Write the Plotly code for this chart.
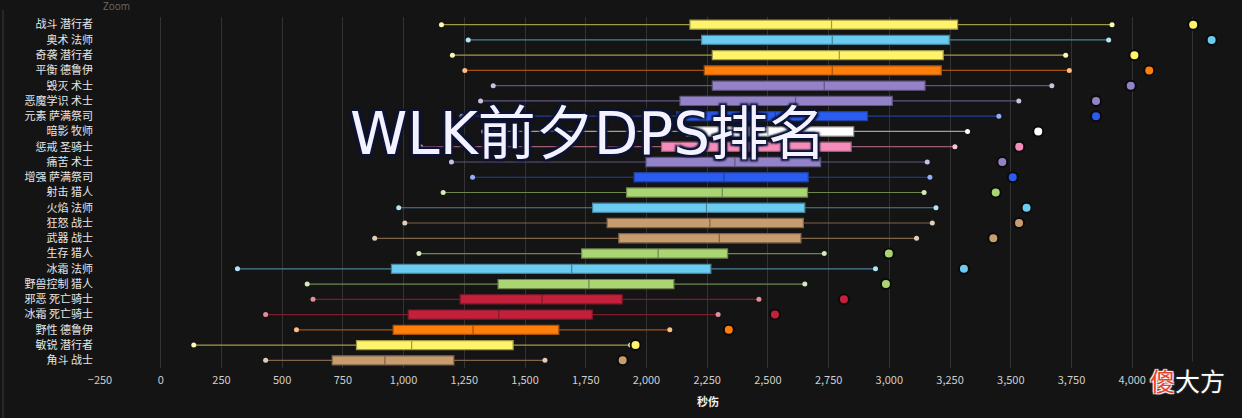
import plotly.graph_objects as go

categories = ["战斗 潜行者", "奥术 法师", "奇袭 潜行者", "平衡 德鲁伊", "毁灭 术士", "恶魔学识 术士",
              "元素 萨满祭司", "暗影 牧师", "惩戒 圣骑士", "痛苦 术士", "增强 萨满祭司", "射击 猎人",
              "火焰 法师", "狂怒 战士", "武器 战士", "生存 猎人", "冰霜 法师", "野兽控制 猎人",
              "邪恶 死亡骑士", "冰霜 死亡骑士", "野性 德鲁伊", "敏锐 潜行者", "角斗 战士"]
low = [1156, 1266, 1201, 1252, 1369, 1317, 1240, 1330, 1070, 1197, 1284, 1163,
       980, 1005, 881, 1063, 316, 603, 627, 432, 559, 136, 432]
q1 = [2179, 2227, 2271, 2238, 2271, 2138, 2124, 2165, 2062, 1998, 1949, 1918,
      1778, 1838, 1886, 1733, 950, 1389, 1233, 1019, 957, 806, 706]
median = [2762, 2765, 2794, 2765, 2732, 2614, 2530, 2500, 2450, 2364, 2319, 2312,
          2247, 2261, 2300, 2048, 1692, 1763, 1570, 1392, 1286, 1033, 923]
q3 = [3281, 3247, 3222, 3214, 3147, 3012, 2910, 2853, 2843, 2717, 2666, 2663,
      2652, 2646, 2636, 2334, 2265, 2113, 1900, 1777, 1639, 1451, 1207]
high = [3917, 3903, 3726, 3741, 3669, 3533, 3451, 3322, 3270, 3156, 3167, 3143,
        3192, 3177, 3112, 2732, 2943, 2652, 2463, 2295, 2096, 1935, 1582]
outlier = [4251, 4327, 4009, 4070, 3994, 3851, 3851, 3613, 3535, 3465, 3508, 3438,
           3565, 3534, 3428, 2998, 3307, 2986, 2813, 2529, 2339, 1955, 1902]
classes = ["rogue", "mage", "rogue", "druid", "warlock", "warlock", "shaman", "priest", "paladin",
           "warlock", "shaman", "hunter", "mage", "warrior", "warrior", "hunter", "mage", "hunter",
           "dk", "dk", "druid", "rogue", "warrior"]
class_colors = {"rogue": "#FFF36A", "mage": "#69CCF0", "druid": "#FF7D0A", "warlock": "#9482C9",
                "shaman": "#2A5CF2", "priest": "#FFFFFF", "paladin": "#F58CBA", "hunter": "#ABD473",
                "warrior": "#C79C6E", "dk": "#C41F3B"}

BG = (20, 20, 20)


def hex2rgb(h):
    h = h.lstrip("#")
    return tuple(int(h[i:i + 2], 16) for i in (0, 2, 4))


def mix(h, a, base=BG):
    c = hex2rgb(h)
    return "rgb(%d,%d,%d)" % tuple(int(base[i] + a * (c[i] - base[i])) for i in range(3))


def tint(h, a):
    c = hex2rgb(h)
    return "rgb(%d,%d,%d)" % tuple(int(c[i] + a * (255 - c[i])) for i in range(3))


fig = go.Figure()
for i, cat in enumerate(categories):
    col = class_colors[classes[i]]
    fig.add_trace(go.Box(
        y=[cat], q1=[q1[i]], median=[median[i]], q3=[q3[i]],
        lowerfence=[low[i]], upperfence=[high[i]],
        orientation="h", fillcolor=col,
        line=dict(color=mix(col, 0.6), width=1.2),
        whiskerwidth=0, width=0.6, boxpoints=False, showlegend=False, hoverinfo="x",
    ))
    fig.add_trace(go.Scatter(
        x=[low[i], high[i]], y=[cat, cat], mode="markers",
        marker=dict(size=5, color=tint(col, 0.5), line=dict(width=0)),
        showlegend=False, hoverinfo="skip",
    ))
    fig.add_trace(go.Scatter(
        x=[outlier[i]], y=[cat], mode="markers",
        marker=dict(size=10, color=col, line=dict(width=2, color="#0a0a0a")),
        showlegend=False,
    ))

W, H = 1242, 418
L, R, T, B = 100, 0, 17, 50
pw, ph = W - L - R, H - T - B


def px(x):
    return (x - L) / pw


def py(y):
    return (H - B - y) / ph


fig.update_layout(
    width=W, height=H,
    margin=dict(l=L, r=R, t=T, b=B, pad=0),
    paper_bgcolor="#141414", plot_bgcolor="#141414",
    boxmode="overlay",
    font=dict(family="Noto Sans CJK SC, Noto Sans, sans-serif", color="#dddddd", size=11),
    xaxis=dict(range=[-250, 4452], tickmode="linear", tick0=-250, dtick=250, tickformat=",",
               showgrid=True, gridcolor="#333333", gridwidth=1, zeroline=False,
               showline=False, ticks="", tickfont=dict(size=11, color="#cfcfcf"),
               ticklabelstandoff=4, automargin=False),
    yaxis=dict(categoryorder="array", categoryarray=categories,
               range=[len(categories) - 0.5, -0.5], autorange=False,
               showgrid=False, zeroline=False, showline=False, ticks="",
               tickfont=dict(size=11, color="#e6e6e6"), ticklabelstandoff=6, automargin=False),
    shapes=[dict(type="line", xref="paper", yref="paper", x0=px(3), x1=px(3), y0=py(418), y1=py(10),
                 line=dict(color="#3a3a3a", width=1))],
)

fig.add_annotation(text="Zoom", xref="paper", yref="paper", x=px(116), y=py(6), showarrow=False,
                   xanchor="center", yanchor="middle",
                   font=dict(size=10, color="#6a6a6a", family="Open Sans"))
fig.add_annotation(text="<b>秒伤</b>", xref="paper", yref="paper", x=px(708), y=py(401),
                   xanchor="center", yanchor="middle",
                   showarrow=False, font=dict(size=11, color="#f0f0f0"))
fig.add_annotation(text="WLK前夕DPS排名", xref="paper", yref="paper", x=px(588), y=py(134),
                   xanchor="center", yanchor="middle", showarrow=False,
                   font=dict(size=58, color="#f4f2ff", family="DejaVu Sans, Noto Sans CJK SC",
                             shadow="2px 2px 2px #0c1438, -2px -2px 2px #0c1438, 2px -2px 2px #0c1438, -2px 2px 2px #0c1438"))
fig.add_annotation(text="大方", xref="paper", yref="paper", x=px(1200), y=py(380), showarrow=False,
                   xanchor="center", yanchor="middle", bgcolor="#141414", borderpad=0,
                   font=dict(size=25, color="#ffffff", family="Noto Sans CJK SC",
                             shadow="1px 1px 1px #222, -1px -1px 1px #222, 1px -1px 1px #222, -1px 1px 1px #222"))
fig.add_annotation(text="傻", xref="paper", yref="paper", x=px(1162), y=py(380), showarrow=False,
                   xanchor="center", yanchor="middle", borderpad=0,
                   font=dict(size=25, color="#e8402c", family="Noto Sans CJK SC",
                             shadow="1px 1px 1px #fff, -1px -1px 1px #fff, 1px -1px 1px #fff, -1px 1px 1px #fff"))

fig.write_html("out.html", config={"displayModeBar": False},
               post_script="document.body.style.margin='0';document.body.style.background='#141414';")
